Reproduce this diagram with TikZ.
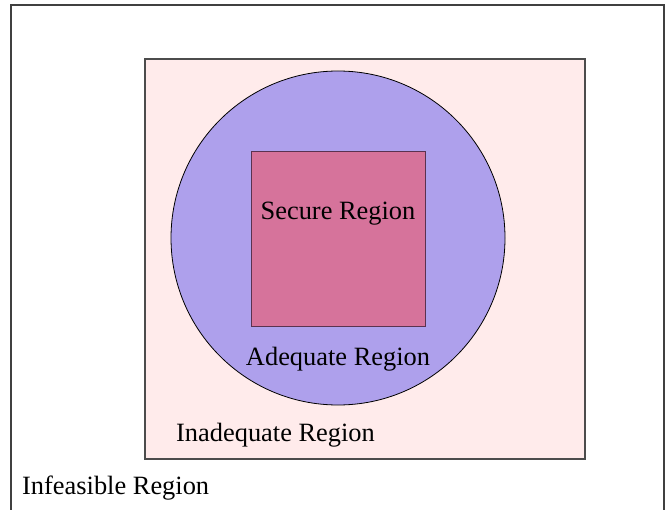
\documentclass[tikz,border=0pt]{standalone}
\usepackage{fontspec}
\setmainfont{Liberation Serif}
\definecolor{inadeq}{RGB}{255,235,235}
\definecolor{adeq}{RGB}{174,160,236}
\definecolor{secure}{RGB}{214,115,155}
\definecolor{secureborder}{RGB}{90,50,80}
\begin{document}
\begin{tikzpicture}[x=1pt,y=-1pt,
  lbl/.style={font=\fontsize{26.4}{30}\selectfont, inner sep=0pt}]
\useasboundingbox (0,0) rectangle (668,510);
\begin{scope}
\clip (0,0) rectangle (668,510);
\draw[line width=1.2pt, draw=black!75] (11,5) rectangle (664,530);
\end{scope}
\draw[line width=1.2pt, draw=black!70, fill=inadeq] (145,59) rectangle (585,459);
\node[circle, draw=black, line width=0.8pt, fill=adeq, minimum size=334pt, inner sep=0pt] (adq) at (338,238) {};
\node[draw=secureborder, line width=1pt, fill=secure, minimum width=174pt, minimum height=174pt, inner sep=0pt] (sec) at (338,239) {};
\node[lbl] (tsec) at (338,214) {Secure Region};
\node[lbl] (tadq) at (338,359) {Adequate Region};
\node[lbl, anchor=west] (tinad) at (176,435) {Inadequate Region};
\node[lbl, anchor=west] (tinf) at (22,488) {Infeasible Region};
\end{tikzpicture}
\end{document}
